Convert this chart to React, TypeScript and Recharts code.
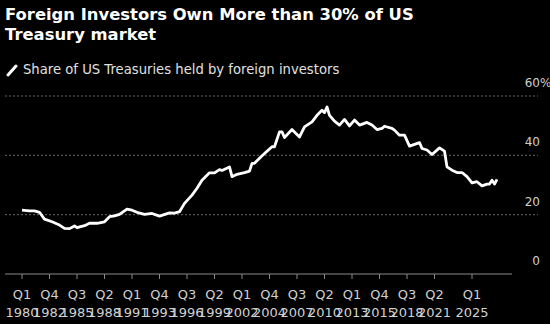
import React from 'react';
import { LineChart, Line, XAxis, YAxis, CartesianGrid, ReferenceLine } from 'recharts';

// Quarter index: 0 = Q1 1980
const quarterIndex = [
  0, 3, 5, 7, 9, 12, 15, 17, 19, 21, 22, 25, 27, 30, 33, 35, 37, 39, 42, 44,
  46, 49, 52, 55, 59, 61, 63, 65, 68, 70, 72, 75, 77, 79, 80, 83, 84, 86, 89, 91,
  92, 93, 95, 97, 100, 101, 103, 104, 105, 108, 111, 113, 116, 118, 120, 121, 122, 123, 125, 127,
  129, 131, 133, 135, 138, 140, 142, 144, 145, 148, 149, 151, 153, 155, 157, 159, 160, 162, 164, 167,
  169, 170, 172, 174, 176, 178, 180, 182, 184, 186, 187, 188, 189, 190,
];

// Share of US Treasuries held by foreign investors (%)
const foreignShare = [
  21.5, 21.3, 21.3, 20.8, 18.5, 17.6, 16.5, 15.4, 15.3, 16.2, 15.6, 16.3, 17.1, 17.1, 17.6, 19.3, 19.6, 20.1, 21.9, 21.5,
  20.8, 20.1, 20.4, 19.5, 20.6, 20.5, 21.0, 23.8, 26.6, 28.9, 31.6, 34.1, 34.1, 35.2, 34.9, 36.1, 32.8, 33.6, 34.2, 34.7,
  37.3, 37.3, 39.0, 40.6, 42.9, 42.9, 47.9, 47.9, 46.0, 48.7, 46.2, 49.6, 51.3, 53.5, 55.2, 54.4, 56.3, 53.5, 51.5, 50.2,
  52.1, 49.9, 51.9, 50.2, 51.1, 50.2, 48.7, 49.1, 49.8, 49.1, 48.5, 46.8, 46.8, 43.1, 43.7, 44.3, 42.3, 41.8, 40.3, 42.5,
  41.4, 36.1, 35.0, 34.2, 34.2, 32.8, 30.7, 31.1, 29.7, 30.3, 30.3, 31.6, 30.3, 31.9,
];

const tickQuarters = [0, 11, 22, 33, 44, 55, 66, 77, 88, 99, 110, 121, 132, 143, 154, 165, 180];
const tickQuarterLabels = ['Q1', 'Q4', 'Q3', 'Q2', 'Q1', 'Q4', 'Q3', 'Q2', 'Q1', 'Q4', 'Q3', 'Q2', 'Q1', 'Q4', 'Q3', 'Q2', 'Q1'];
const tickYearLabels = ['1980', '1982', '1985', '1988', '1991', '1993', '1996', '1999', '2002', '2004', '2007', '2010', '2013', '2015', '2018', '2021', '2025'];
const yTicks = [0, 20, 40, 60];
const gridValues = [20, 40, 60];

const titleText = 'Foreign Investors Own More than 30% of US Treasury market';
const legendText = 'Share of US Treasuries held by foreign investors';

const data = quarterIndex.map((q, i) => ({ q, share: foreignShare[i] }));

const FONT = '"DejaVu Sans", Verdana, sans-serif';
const TICK_COLOR = '#d0d0d0';

const XTick = (props: any) => {
  const { x, y, payload } = props;
  const i = tickQuarters.indexOf(payload.value);
  return (
    <g>
      <text x={x} y={y + 18} textAnchor="middle" fill={TICK_COLOR} fontSize={13} fontFamily={FONT}>
        {tickQuarterLabels[i]}
      </text>
      <text x={x} y={y + 36} textAnchor="middle" fill={TICK_COLOR} fontSize={13} fontFamily={FONT}>
        {tickYearLabels[i]}
      </text>
    </g>
  );
};

const YTick = (props: any) => {
  const { x, y, payload } = props;
  const isTop = payload.value === yTicks[yTicks.length - 1];
  return (
    <g>
      <text x={x + 2} y={y - 9} textAnchor="end" fill={TICK_COLOR} fontSize={12} fontFamily={FONT}>
        {payload.value}
      </text>
      {isTop && (
        <text x={x + 2} y={y - 9} textAnchor="start" fill={TICK_COLOR} fontSize={12} fontFamily={FONT}>
          %
        </text>
      )}
    </g>
  );
};

export default function App() {
  return (
    <div style={{ position: 'fixed', left: 0, top: 0, width: 550, height: 324, background: '#000', overflow: 'hidden' }}>
      <div
        style={{
          position: 'absolute',
          left: 5,
          top: 5,
          width: 430,
          color: '#fff',
          fontFamily: FONT,
          fontWeight: 'bold',
          fontSize: 16.4,
          lineHeight: '20px',
        }}
      >
        {titleText}
      </div>
      <div
        style={{
          position: 'absolute',
          left: 6,
          top: 60,
          display: 'flex',
          alignItems: 'center',
          color: '#e0e0e0',
          fontFamily: FONT,
          fontSize: 13.2,
          lineHeight: '20px',
          whiteSpace: 'nowrap',
        }}
      >
        <svg width={12} height={14} style={{ marginRight: 5 }}>
          <line x1={2} y1={12} x2={10} y2={3} stroke="#fff" strokeWidth={3} strokeLinecap="round" />
        </svg>
        <span>{legendText}</span>
      </div>
      <LineChart width={550} height={324} data={data} margin={{ top: 96, right: 0, bottom: 0, left: 5 }}>
        <CartesianGrid horizontal vertical={false} horizontalValues={gridValues} stroke="#666" strokeDasharray="2 2" />
        <XAxis
          dataKey="q"
          type="number"
          domain={[-6.8, 206.4]}
          ticks={tickQuarters}
          interval={0}
          height={50}
          axisLine={false}
          tickSize={5}
          tickMargin={2}
          tickLine={{ stroke: '#888' }}
          tick={<XTick />}
          allowDataOverflow
        />
        <YAxis
          orientation="right"
          width={12}
          domain={[0, 60]}
          ticks={yTicks}
          axisLine={false}
          tickLine={false}
          tickSize={0}
          tickMargin={0}
          tick={<YTick />}
        />
        <ReferenceLine
          segment={[{ x: -6.8, y: 0 }, { x: 196, y: 0 }]}
          stroke="#888"
          strokeWidth={1}
        />
        <Line
          type="linear"
          dataKey="share"
          stroke="#fff"
          strokeWidth={2.8}
          strokeLinejoin="round"
          dot={false}
          isAnimationActive={false}
        />
      </LineChart>
    </div>
  );
}
